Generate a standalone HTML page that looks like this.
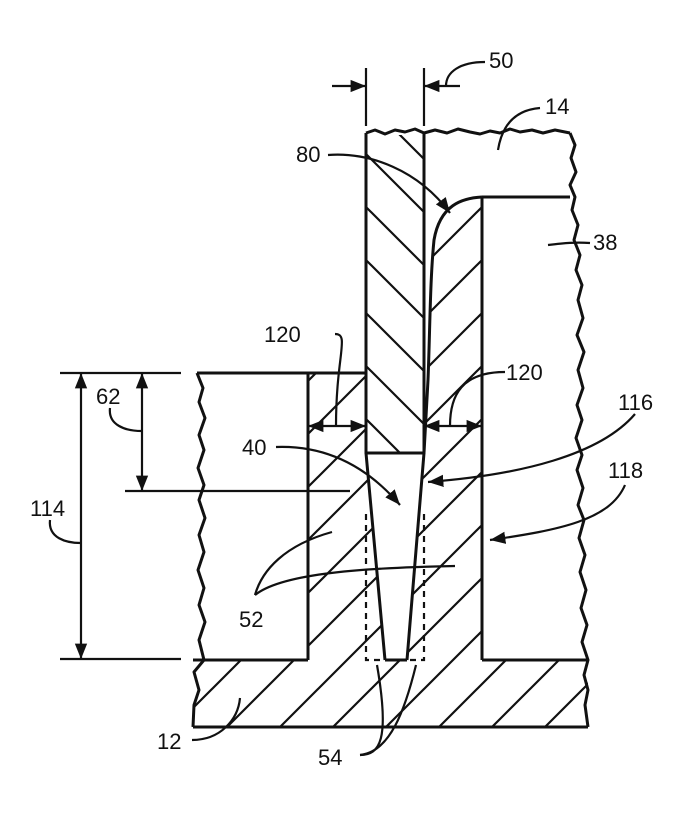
<!DOCTYPE html>
<html><head><meta charset="utf-8"><style>
html,body{margin:0;padding:0;background:#fff}
svg{display:block}
text{font-family:"Liberation Sans",sans-serif;font-size:22px;fill:#111}
</style></head><body>
<svg width="689" height="819" viewBox="0 0 689 819" xmlns="http://www.w3.org/2000/svg">
<defs>
<marker id="ah" viewBox="0 0 10 10" refX="10" refY="5" markerWidth="7" markerHeight="7" orient="auto-start-reverse"><path d="M0,1 L10,5 L0,9 z" fill="#111"/></marker>
<pattern id="hf" patternUnits="userSpaceOnUse" width="53" height="53">
<path d="M-5,58 L58,-5 M-58,58 L5,-5 M48,58 L111,-5" stroke="#111" stroke-width="2.2"/>
</pattern>
<pattern id="hb" patternUnits="userSpaceOnUse" width="53" height="53">
<path d="M-5,-5 L58,58 M-58,-5 L5,58 M48,-5 L111,58" stroke="#111" stroke-width="2.2"/>
</pattern>
</defs>
<g stroke="#111" stroke-width="3" fill="none" stroke-linejoin="round">
<path d="M366,135 L424,135 L424,453 L366,453 Z" fill="url(#hb)" stroke="none"/>
<path d="M424,197 L482,197 L482,660 L407,660 L424,453 Z" fill="url(#hf)" stroke="none"/>
<path d="M308,373 L366,373 L366,453 L385,660 L308,660 Z" fill="url(#hf)" stroke="none"/>
<path d="M193,660 L588,660 L588,727 L193,727 Z" fill="url(#hf)" stroke="none"/>
<path d="M424,197 L482,197 C462,198 440,205 434,240 C430,280 430,330 428,380 L424,453 Z" fill="#fff" stroke="none"/>
<path d="M366,453 L424,453 L407,660 L385,660 Z" fill="#fff" stroke="none"/>
<path d="M366,133 L375,130 L385,134 L395,130 L405,132 L415,129 L424,133 L435,130 L447,133 L458,129 L470,132 L480,134 L490,131 L500,133 L510,129 L520,132 L532,130 L543,133 L555,130 L565,132 L570,133"/>
<path d="M570,133 L575,145 L571,158 L576,172 L570,185 L575,197 L572,210 L578,225 L574,240 L580,255 L576,270 L582,285 L578,300 L583,318 L577,335 L584,352 L578,370 L583,388 L577,405 L582,420 L576,438 L582,455 L577,470 L583,488 L578,505 L584,520 L579,538 L585,555 L580,572 L586,590 L581,608 L587,625 L582,642 L588,660 L584,675 L588,690 L585,705 L588,727"/>
<path d="M366,133 L366,453 L424,453 L424,133"/>
<path d="M482,197 L570,197"/>
<path d="M482,197 L482,660"/>
<path d="M482,197 C462,198 440,205 434,240 C430,280 430,330 428,380 L424,453"/>
<path d="M197,373 L366,373"/>
<path d="M308,373 L308,660"/>
<path d="M197,373 L203,388 L199,402 L205,418 L199,435 L204,450 L198,468 L204,485 L199,500 L205,518 L199,535 L204,552 L198,570 L204,588 L199,605 L205,622 L199,640 L204,660 L194,672 L199,690 L194,705 L193,727"/>
<path d="M193,660 L308,660 M482,660 L588,660 M193,727 L588,727"/>
<path d="M385,660 L407,660"/>
<path d="M366,453 L385,660 M424,453 L407,660"/>
</g>
<g stroke="#111" stroke-width="2.2" fill="none">
<path d="M366,514 L366,660 L385,660 M424,514 L424,660 L407,660" stroke-dasharray="6,5"/>
<path d="M366,68 L366,126 M424,68 L424,126"/>
<path d="M332,86 L366,86" marker-end="url(#ah)"/>
<path d="M460,86 L424,86" marker-end="url(#ah)"/>
<path d="M446,86 C446,72 460,62 485,62"/>
<path d="M498,150 C502,125 515,110 540,108"/>
<path d="M328,155 C370,152 418,170 450,213" marker-end="url(#ah)"/>
<path d="M548,245 C565,243 575,242 590,243"/>
<path d="M308,426 L366,426" marker-start="url(#ah)" marker-end="url(#ah)"/>
<path d="M424,426 L482,426" marker-start="url(#ah)" marker-end="url(#ah)"/>
<path d="M335,334 C350,334 336,355 336,426"/>
<path d="M450,426 C450,395 462,372 505,372"/>
<path d="M60,373 L181,373 M60,659 L181,659 M125,491 L350,491"/>
<path d="M81,373 L81,659" marker-start="url(#ah)" marker-end="url(#ah)"/>
<path d="M142,373 L142,491" marker-start="url(#ah)" marker-end="url(#ah)"/>
<path d="M110,408 C108,425 125,431 142,431"/>
<path d="M50,520 C48,538 66,543 81,543"/>
<path d="M276,447 C330,445 370,470 400,505" marker-end="url(#ah)"/>
<path d="M635,414 C600,455 520,475 428,482" marker-end="url(#ah)"/>
<path d="M625,485 C610,520 560,530 490,540" marker-end="url(#ah)"/>
<path d="M255,595 C262,570 285,545 332,532"/>
<path d="M255,595 C280,575 350,568 455,566"/>
<path d="M192,740 C220,740 238,720 240,698"/>
<path d="M360,755 C380,755 390,740 377,665"/>
<path d="M360,755 C390,752 405,710 416,665"/>
</g>
<text x="489" y="68">50</text>
<text x="545" y="114">14</text>
<text x="296" y="162">80</text>
<text x="593" y="250">38</text>
<text x="264" y="342">120</text>
<text x="506" y="380">120</text>
<text x="96" y="404">62</text>
<text x="618" y="410">116</text>
<text x="242" y="455">40</text>
<text x="608" y="478">118</text>
<text x="30" y="516">114</text>
<text x="239" y="627">52</text>
<text x="157" y="749">12</text>
<text x="318" y="765">54</text>
</svg>
</body></html>
